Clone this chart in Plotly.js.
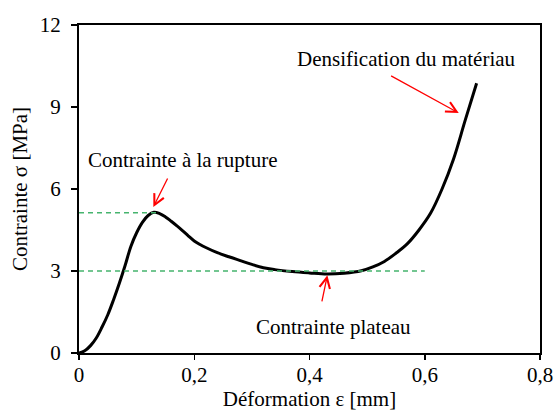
<!DOCTYPE html>
<html>
<head>
<meta charset="utf-8">
<script src="https://cdn.plot.ly/plotly-3.0.1.min.js"></script>
<style>html,body{margin:0;padding:0;background:#fff;}#chart{width:555px;height:412px;}</style>
</head>
<body>
<div id="chart"></div>
<script>
// Strain (mm) and stress (MPa)
var strain = [0, 0.01, 0.02, 0.03, 0.04, 0.05, 0.06, 0.07, 0.08, 0.09, 0.10, 0.11, 0.12, 0.13, 0.14, 0.15, 0.16, 0.17, 0.18, 0.19, 0.20, 0.21, 0.22, 0.24, 0.26, 0.28, 0.30, 0.32, 0.34, 0.37, 0.40, 0.43, 0.46, 0.49, 0.51, 0.53, 0.55, 0.57, 0.59, 0.61, 0.63, 0.65, 0.67, 0.69];
var stress = [0, 0.08, 0.27, 0.55, 0.95, 1.4, 1.95, 2.55, 3.2, 3.9, 4.4, 4.78, 5.03, 5.15, 5.1, 4.98, 4.82, 4.65, 4.47, 4.28, 4.1, 3.97, 3.86, 3.67, 3.52, 3.38, 3.24, 3.12, 3.05, 2.98, 2.93, 2.89, 2.92, 3.01, 3.15, 3.35, 3.65, 4.0, 4.5, 5.11, 6.0, 7.1, 8.5, 9.87];

// Reference lines
var ruptureX = [0, 0.135];
var ruptureY = [5.13, 5.13];
var plateauX = [0, 0.6];
var plateauY = [3.0, 3.0];

// Axis ticks
var xTickVals = [0, 0.2, 0.4, 0.6, 0.8];
var xTickText = ['0', '0,2', '0,4', '0,6', '0,8'];
var yTickVals = [0, 3, 6, 9, 12];
var yTickText = ['0', '3', '6', '9', '12'];

// Annotation labels: [text, x, y]
var labels = [
  ['Contrainte à la rupture', 0.181, 7.06],
  ['Densification du matériau', 0.568, 10.76],
  ['Contrainte plateau', 0.442, 0.95]
];
// Arrows: [tipX, tipY, tailX, tailY]
var arrows = [
  [0.129, 5.34, 0.155, 6.44],
  [0.659, 8.78, 0.539, 10.17],
  [0.431, 2.84, 0.421, 1.83]
];

var FONT = "'Liberation Serif', 'Times New Roman', serif";
var green = 'rgb(70,180,110)';
var FS = 21;

var traces = [
  {x: strain, y: stress, mode: 'lines', line: {color: '#000', width: 3, shape: 'spline', smoothing: 1}, hoverinfo: 'none'},
  {x: ruptureX, y: ruptureY, mode: 'lines', line: {color: green, width: 1.5, dash: '5px,4px'}, hoverinfo: 'none'},
  {x: plateauX, y: plateauY, mode: 'lines', line: {color: green, width: 1.5, dash: '5px,4px'}, hoverinfo: 'none'}
];

var annotations = [];
labels.forEach(function (l) {
  annotations.push({x: l[1], y: l[2], xref: 'x', yref: 'y', text: l[0], showarrow: false,
    font: {family: FONT, size: FS, color: '#000'}, xanchor: 'center', yanchor: 'middle'});
});
arrows.forEach(function (a) {
  annotations.push({x: a[0], y: a[1], ax: a[2], ay: a[3], xref: 'x', yref: 'y', axref: 'x', ayref: 'y',
    text: '', showarrow: true, arrowhead: 5, arrowsize: 1.6, arrowwidth: 1.3, arrowcolor: 'rgb(255,0,0)'});
});

var layout = {
  width: 555, height: 412,
  margin: {l: 79, r: 15, t: 25, b: 59},
  paper_bgcolor: '#fff', plot_bgcolor: '#fff',
  showlegend: false,
  font: {family: FONT, size: FS, color: '#000'},
  xaxis: {
    range: [0, 0.8], tickvals: xTickVals, ticktext: xTickText,
    showgrid: false, zeroline: false, showline: true, linecolor: '#000', linewidth: 2, mirror: true,
    ticks: 'outside', ticklen: 5, tickwidth: 1.5, tickcolor: '#000',
    ticklabelstandoff: -3,
    tickfont: {family: FONT, size: FS, color: '#000'},
    title: {text: 'Déformation ε [mm]', font: {family: FONT, size: FS, color: '#000'}, standoff: 0}
  },
  yaxis: {
    range: [0, 12], tickvals: yTickVals, ticktext: yTickText,
    showgrid: false, zeroline: false, showline: true, linecolor: '#000', linewidth: 2, mirror: true,
    ticks: 'outside', ticklen: 6, tickwidth: 1.5, tickcolor: '#000',
    ticklabelstandoff: 6,
    tickfont: {family: FONT, size: FS, color: '#000'},
    title: {text: 'Contrainte σ [MPa]', font: {family: FONT, size: FS, color: '#000'}, standoff: 6}
  },
  annotations: annotations
};

Plotly.newPlot('chart', traces, layout, {staticPlot: true, displayModeBar: false});
</script>
</body>
</html>
